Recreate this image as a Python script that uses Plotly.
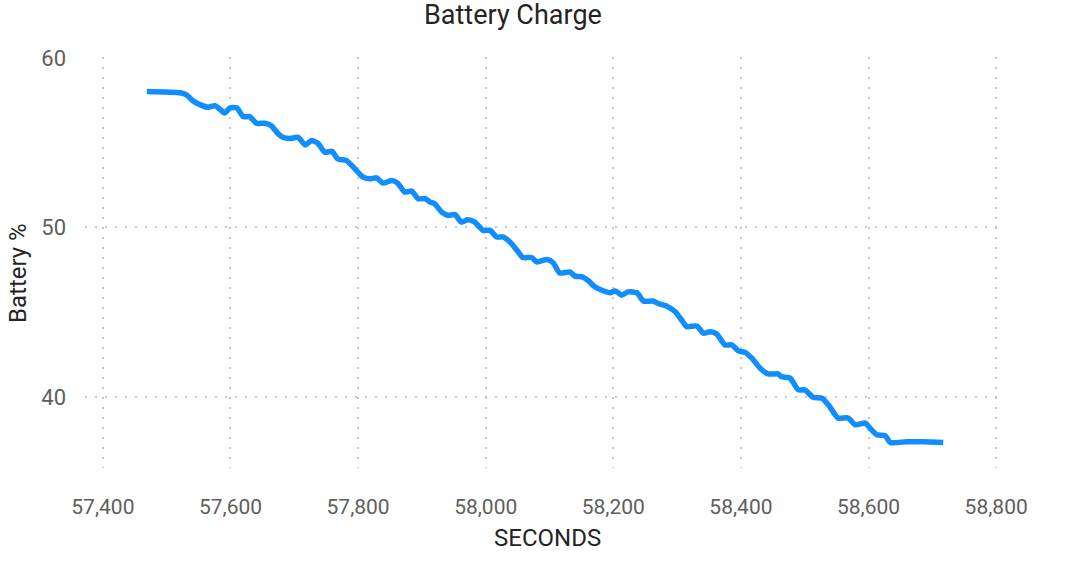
import plotly.graph_objects as go

seconds = [57469, 57521, 57531, 57541, 57552, 57565, 57576, 57583, 57591, 57599,
           57610, 57620, 57630, 57641, 57654, 57664, 57674, 57682, 57693, 57706,
           57717, 57727, 57737, 57748, 57759, 57768, 57782, 57795, 57808, 57819,
           57829, 57839, 57853, 57862, 57873, 57884, 57894, 57905, 57913, 57920,
           57931, 57941, 57952, 57962, 57972, 57983, 57996, 58007, 58017, 58027,
           58038, 58049, 58058, 58072, 58080, 58096, 58106, 58116, 58132, 58140,
           58151, 58160, 58171, 58182, 58195, 58203, 58213, 58223, 58237, 58247,
           58262, 58273, 58284, 58297, 58307, 58315, 58331, 58341, 58352, 58362,
           58375, 58386, 58396, 58407, 58417, 58430, 58443, 58458, 58464, 58477,
           58490, 58500, 58513, 58527, 58537, 58552, 58568, 58579, 58595, 58602,
           58613, 58626, 58634, 58660, 58686, 58717]
battery = [58.02, 57.94, 57.82, 57.47, 57.24, 57.08, 57.18, 56.98, 56.75, 57.04,
           57.04, 56.53, 56.53, 56.14, 56.14, 56.00, 55.55, 55.31, 55.24, 55.31,
           54.86, 55.12, 54.96, 54.43, 54.49, 54.04, 53.94, 53.45, 52.96, 52.86,
           52.92, 52.61, 52.76, 52.61, 52.08, 52.14, 51.69, 51.69, 51.49, 51.39,
           50.90, 50.71, 50.75, 50.31, 50.45, 50.31, 49.82, 49.82, 49.43, 49.43,
           49.14, 48.65, 48.22, 48.22, 47.96, 48.10, 47.90, 47.31, 47.37, 47.12,
           47.08, 46.88, 46.49, 46.29, 46.14, 46.25, 46.00, 46.19, 46.14, 45.65,
           45.65, 45.47, 45.35, 45.02, 44.53, 44.14, 44.18, 43.75, 43.84, 43.71,
           43.06, 43.06, 42.71, 42.61, 42.28, 41.69, 41.35, 41.35, 41.18, 41.10,
           40.41, 40.41, 39.98, 39.92, 39.53, 38.75, 38.75, 38.35, 38.45, 38.16,
           37.76, 37.71, 37.31, 37.35, 37.35, 37.31]

x_ticks = [57400, 57600, 57800, 58000, 58200, 58400, 58600, 58800]
x_tick_labels = ["57,400", "57,600", "57,800", "58,000", "58,200", "58,400", "58,600", "58,800"]
y_ticks = [40, 50, 60]

FONT = "Roboto"
grid = dict(showgrid=True, gridcolor="#C8C6C4", gridwidth=2, griddash="2px,8px",
            zeroline=False, showline=False)

fig = go.Figure()
fig.add_trace(go.Scatter(
    x=seconds, y=battery, mode="lines",
    line=dict(color="#118DFF", width=5.5, shape="spline", smoothing=0.6),
    hoverinfo="x+y", showlegend=False,
))

fig.update_layout(
    width=1077, height=579,
    margin=dict(l=85, r=77, t=57, b=111),
    paper_bgcolor="white", plot_bgcolor="white",
    font=dict(family=FONT, color="#605E5C"),
    xaxis=dict(range=[57372, 58806], tickvals=x_ticks, ticktext=x_tick_labels,
               tickfont=dict(size=21, color="#605E5C", family=FONT),
               ticklabelstandoff=24, **grid),
    yaxis=dict(range=[35.8, 60.05], tickvals=y_ticks,
               tickfont=dict(size=22, color="#605E5C", family=FONT),
               ticklabelstandoff=18, **grid),
    annotations=[
        dict(text="Battery Charge", xref="paper", yref="paper", x=0.4678, y=1.102,
             showarrow=False, xanchor="center", yanchor="middle",
             font=dict(size=27, color="#252423", family=FONT)),
        dict(text="SECONDS", xref="paper", yref="paper", x=0.505, y=-0.170,
             showarrow=False, xanchor="center", yanchor="middle",
             font=dict(size=24, color="#252423", family=FONT)),
        dict(text="Battery %", xref="paper", yref="paper", x=-0.0732, y=0.4745,
             showarrow=False, xanchor="center", yanchor="middle", textangle=-90,
             font=dict(size=24, color="#252423", family=FONT)),
    ],
)

fig.write_html("out.html")
